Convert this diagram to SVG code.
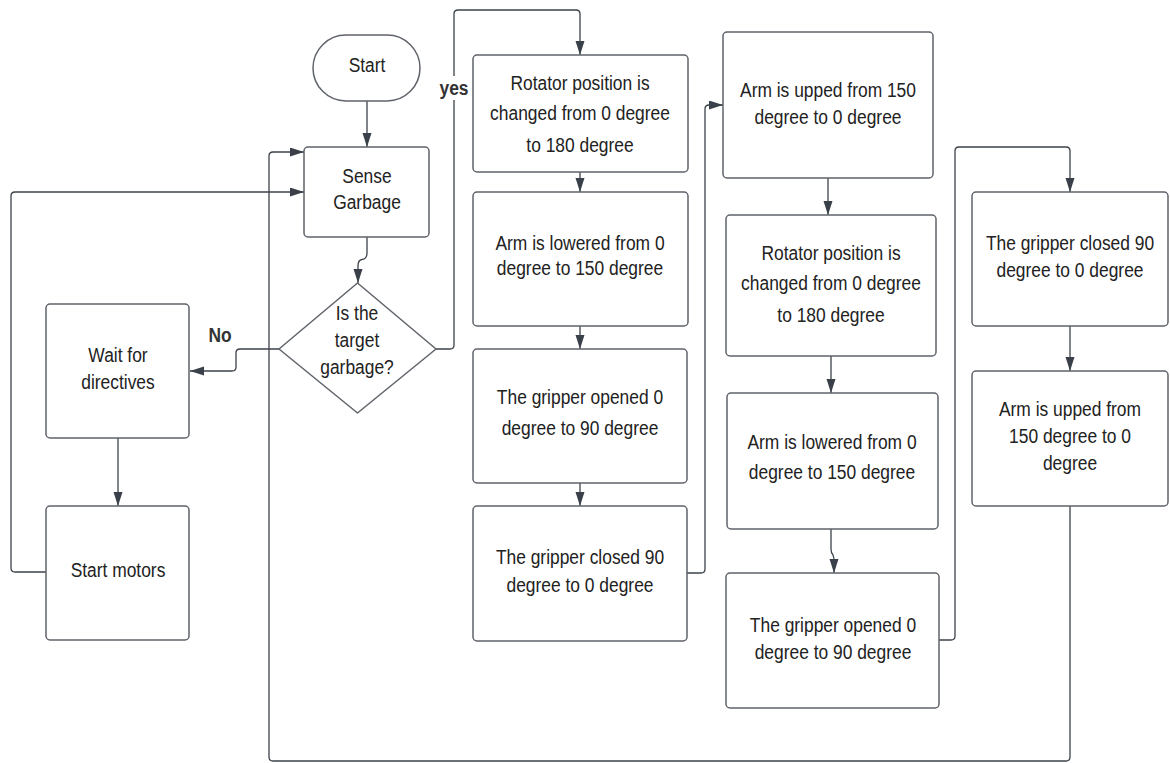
<svg xmlns="http://www.w3.org/2000/svg" width="1170" height="763" viewBox="0 0 1170 763">
  <defs>
    <marker id="arrow" markerUnits="userSpaceOnUse" markerWidth="15" markerHeight="10" refX="14" refY="4.5" orient="auto">
      <path d="M0,0 L14,4.5 L0,9 z" fill="#3a4049"/>
    </marker>
    <style>
      .box { fill: #ffffff; stroke: #5f636a; stroke-width: 1.5; }
      .conn { fill: none; stroke: #3d434b; stroke-width: 1.3; marker-end: url(#arrow); }
      .line { fill: none; stroke: #3d434b; stroke-width: 1.3; }
      text { font-family: "Liberation Sans", Arial, sans-serif; font-size: 20px; fill: #222222; text-anchor: middle; }
      .lbl { font-weight: bold; fill: #333333; }
    </style>
  </defs>
  <rect width="1170" height="763" fill="#ffffff"/>

  <!-- connectors -->
  <g id="connectors">
    <path class="conn" d="M367,101 V147"/>
    <path class="conn" d="M367,237 V253 Q367,259 362,259.5 Q358,260 358,266 V283"/>
    <path class="conn" d="M279,349 H240 Q236,349 236,353 V367 Q236,371 232,371 H190"/>
    <path class="conn" d="M118,438 V506"/>
    <path class="conn" d="M46,572 H15 Q11,572 11,568 V196 Q11,192 15,192 H304"/>
    <path class="conn" d="M1070,506 V757 Q1070,761 1066,761 H273 Q269,761 269,757 V156 Q269,152 273,152 H304"/>
    <path class="conn" d="M436,349 H450 Q454,349 454,345 V14 Q454,10 458,10 H576 Q580,10 580,14 V55"/>
    <path class="conn" d="M580,172 V192"/>
    <path class="conn" d="M580,326 V349"/>
    <path class="conn" d="M580,483 V506"/>
    <path class="conn" d="M687,573 H701 Q705,573 705,569 V109 Q705,105 709,105 H723"/>
    <path class="conn" d="M828,178 V215"/>
    <path class="conn" d="M831,356 V393"/>
    <path class="conn" d="M831,529 V549 Q831,553 833,555 Q834,557 834,561 V573"/>
    <path class="conn" d="M939,640 H951 Q955,640 955,636 V151 Q955,147 959,147 H1066 Q1070,147 1070,151 V192"/>
    <path class="conn" d="M1070,326 V371"/>
  </g>

  <!-- edge labels -->
  <g id="edge-labels">
    <rect x="440" y="76" width="28" height="24" fill="#ffffff"/>
    <text class="lbl" transform="translate(454,0) scale(0.87,1)" x="0" y="95">yes</text>
    <text class="lbl" transform="translate(220,0) scale(0.87,1)" x="0" y="342">No</text>
  </g>

  <g id="start">
    <rect class="box" x="313" y="35" width="107" height="66" rx="33" ry="33"/>
    <text transform="translate(367,0) scale(0.87,1)" x="0" y="72">Start</text>
  </g>

  <g id="sense-garbage">
    <rect class="box" x="304" y="147" width="125" height="90" rx="4"/>
    <text transform="translate(367,0) scale(0.87,1)" x="0"><tspan x="0" y="183">Sense</tspan><tspan x="0" y="209">Garbage</tspan></text>
  </g>

  <g id="is-target">
    <path class="box" d="M357.5,283 L436,349 L357.5,413 L279,349 Z" stroke-linejoin="round"/>
    <text transform="translate(357,0) scale(0.87,1)" x="0"><tspan x="0" y="320">Is the</tspan><tspan x="0" y="347">target</tspan><tspan x="0" y="374">garbage?</tspan></text>
  </g>

  <g id="wait-directives">
    <rect class="box" x="46" y="304" width="143" height="134" rx="4"/>
    <text transform="translate(118,0) scale(0.87,1)" x="0"><tspan x="0" y="362">Wait for</tspan><tspan x="0" y="389">directives</tspan></text>
  </g>

  <g id="start-motors">
    <rect class="box" x="46" y="506" width="143" height="134" rx="4"/>
    <text transform="translate(118,0) scale(0.87,1)" x="0" y="577">Start motors</text>
  </g>

  <g id="rotate-1">
    <rect class="box" x="473" y="55" width="215" height="117" rx="4"/>
    <text transform="translate(580,0) scale(0.87,1)" x="0"><tspan x="0" y="90">Rotator position is</tspan><tspan x="0" y="120">changed from 0 degree</tspan><tspan x="0" y="152">to 180 degree</tspan></text>
  </g>

  <g id="lower-1">
    <rect class="box" x="473" y="192" width="215" height="134" rx="4"/>
    <text transform="translate(580,0) scale(0.87,1)" x="0"><tspan x="0" y="250">Arm is lowered from 0</tspan><tspan x="0" y="275">degree to 150 degree</tspan></text>
  </g>

  <g id="open-1">
    <rect class="box" x="473" y="349" width="214" height="134" rx="4"/>
    <text transform="translate(580,0) scale(0.87,1)" x="0"><tspan x="0" y="404">The gripper opened 0</tspan><tspan x="0" y="435">degree to 90 degree</tspan></text>
  </g>

  <g id="close-1">
    <rect class="box" x="473" y="506" width="214" height="135" rx="4"/>
    <text transform="translate(580,0) scale(0.87,1)" x="0"><tspan x="0" y="564">The gripper closed 90</tspan><tspan x="0" y="592">degree to 0 degree</tspan></text>
  </g>

  <g id="raise-1">
    <rect class="box" x="723" y="32" width="210" height="146" rx="4"/>
    <text transform="translate(828,0) scale(0.87,1)" x="0"><tspan x="0" y="97">Arm is upped from 150</tspan><tspan x="0" y="124">degree to 0 degree</tspan></text>
  </g>

  <g id="rotate-2">
    <rect class="box" x="726" y="215" width="210" height="141" rx="4"/>
    <text transform="translate(831,0) scale(0.87,1)" x="0"><tspan x="0" y="260">Rotator position is</tspan><tspan x="0" y="290">changed from 0 degree</tspan><tspan x="0" y="322">to 180 degree</tspan></text>
  </g>

  <g id="lower-2">
    <rect class="box" x="727" y="393" width="211" height="136" rx="4"/>
    <text transform="translate(832,0) scale(0.87,1)" x="0"><tspan x="0" y="449">Arm is lowered from 0</tspan><tspan x="0" y="479">degree to 150 degree</tspan></text>
  </g>

  <g id="open-2">
    <rect class="box" x="726" y="573" width="213" height="135" rx="4"/>
    <text transform="translate(833,0) scale(0.87,1)" x="0"><tspan x="0" y="632">The gripper opened 0</tspan><tspan x="0" y="659">degree to 90 degree</tspan></text>
  </g>

  <g id="close-2">
    <rect class="box" x="972" y="192" width="196" height="134" rx="4"/>
    <text transform="translate(1070,0) scale(0.87,1)" x="0"><tspan x="0" y="250">The gripper closed 90</tspan><tspan x="0" y="277">degree to 0 degree</tspan></text>
  </g>

  <g id="raise-2">
    <rect class="box" x="972" y="371" width="196" height="135" rx="4"/>
    <text transform="translate(1070,0) scale(0.87,1)" x="0"><tspan x="0" y="416">Arm is upped from</tspan><tspan x="0" y="443">150 degree to 0</tspan><tspan x="0" y="470">degree</tspan></text>
  </g>
</svg>
